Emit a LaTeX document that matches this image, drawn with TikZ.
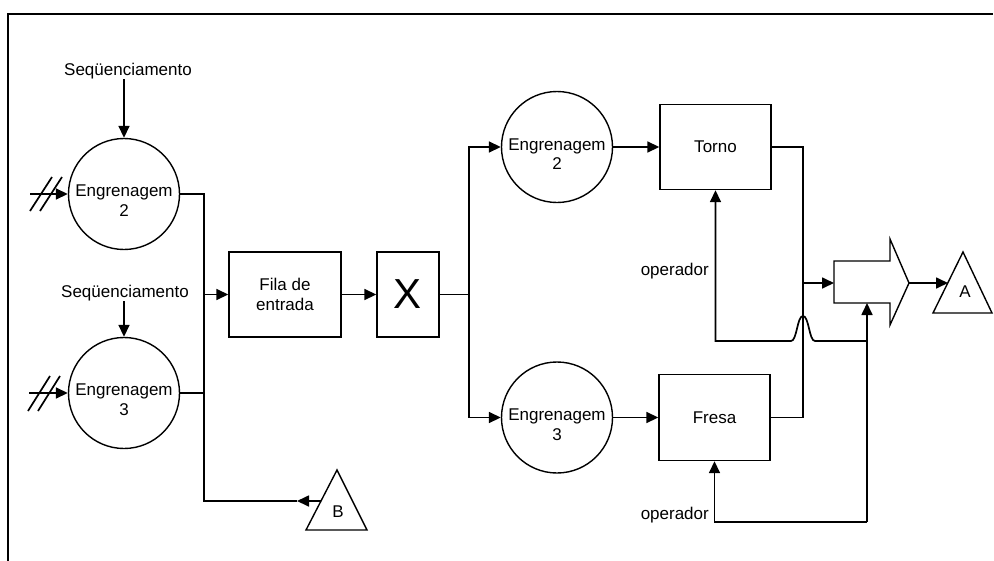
\documentclass[tikz,border=0pt]{standalone}
\usepackage{fontspec}
\setmainfont{Liberation Sans}
\usetikzlibrary{arrows.meta}
\begin{document}
\begin{tikzpicture}[x=1pt,y=-1pt,
  font=\fontsize{17}{19.5}\selectfont,
  ln/.style={line width=1.7pt},
  arr/.style={ln,-{Triangle[length=12pt,width=11pt]}},
  shp/.style={draw,line width=1.4pt},
  circ/.style={shp,circle,minimum size=111pt,inner sep=0pt},
  ctext/.style={align=center,inner sep=0pt},
  box/.style={shp,rectangle,inner sep=0pt,align=center},
  lbl/.style={inner sep=0pt}]
\useasboundingbox (0,0) rectangle (994,560);
% frame
\draw[line width=1.6pt] (8,561) -- (8,14) -- (993,14);

% left circles
\node[circ] (E2L) at (124,194) {};
\node[ctext] (E2Lt) at ([yshift=-6.5pt]E2L.center) {Engrenagem\\2};
\node[circ] (E3L) at (124,393) {};
\node[ctext] (E3Lt) at ([yshift=-6.5pt]E3L.center) {Engrenagem\\3};
\node[lbl] (S1) at (128,71) {Seqüenciamento};
\node[lbl] (S2) at (125,293) {Seqüenciamento};

% boxes
\node[box,minimum width=112pt,minimum height=85pt] (Fila) at (285,294.5) {Fila de\\entrada};
\node[box,minimum width=62pt,minimum height=85pt,font=\fontsize{42}{44}\selectfont] (X) at (408,294.5) {X};

% right circles
\node[circ] (E2R) at (557,147) {};
\node[ctext] (E2Rt) at ([yshift=-7pt]E2R.center) {Engrenagem\\2};
\node[circ] (E3R) at (557,417.5) {};
\node[ctext] (E3Rt) at ([yshift=-7pt]E3R.center) {Engrenagem\\3};
\node[box,minimum width=111pt,minimum height=85pt] (Torno) at (715.5,147) {Torno};
\node[box,minimum width=111pt,minimum height=86pt] (Fresa) at (714.5,417.5) {Fresa};

% triangles
\draw[shp] (337,470) -- (367,530) -- (306,530) -- cycle;
\node[lbl] (B) at (338,512) {B};
\coordinate (Bedge) at (321,501);
\coordinate (Btip) at (297,501);
\draw[shp] (963,252) -- (992,313) -- (933,313) -- cycle;
\node[lbl] (A) at (965,292) {A};
\coordinate (Aw) at (948,283);

% big arrow
\coordinate (Gw) at (834,283);
\coordinate (Gtip) at (909,283);
\coordinate (Gs) at (867,303);
\draw[shp] (834,261) -- (890,261) -- (890,239) -- (Gtip) -- (890,325) -- (890,303) -- (834,303) -- cycle;

% sequencing arrows
\draw[arr] (E2L.north |- S1.south) -- (E2L.north);
\draw[arr] (E3L.north |- S2.south) -- (E3L.north);

% inputs with double slash
\coordinate (in2) at (30,194);
\coordinate (in3) at (29,393);
\draw[arr] (in2) -- (E2L.west);
\draw[ln] ([shift={(0,17)}]in2) -- ++(22,-34);
\draw[ln] ([shift={(10,17)}]in2) -- ++(22,-34);
\draw[arr] (in3) -- (E3L.west);
\draw[ln] ([shift={(-1,18)}]in3) -- ++(22,-35);
\draw[ln] ([shift={(9,18)}]in3) -- ++(22,-35);

% left bus
\coordinate (bus1top) at (204,194);
\coordinate (bus1bot) at (204,501);
\draw[ln] (E2L.east) -- (bus1top) -- (bus1bot) -- (Btip);
\draw[ln] (E3L.east) -- (E3L.east -| bus1top);
\draw[arr] (Fila.west -| bus1top) -- (Fila.west);
\draw[arr] (Bedge) -- (Btip);

\draw[arr] (Fila) -- (X);

% middle bus
\coordinate (bus2) at (469,294.5);
\draw[ln] (X.east) -- (bus2);
\draw[arr] (bus2) |- (E2R.west);
\draw[arr] (bus2) |- (E3R.west);
\draw[arr] (E2R) -- (Torno);
\draw[arr] (E3R) -- (Fresa);

% right bus
\coordinate (bus3) at (803,283);
\draw[ln] (Torno.east) -| (bus3);
\draw[ln] (Fresa.east) -| (bus3);
\draw[arr] (bus3) -- (Gw);
\draw[arr] (Gtip) -- (Aw);

% operators
\coordinate (op) at (867,522);
\coordinate (op2) at (867,341);
\draw[arr] (op) -- (Gs);
\draw[arr] (op) -| (Fresa.south);
\draw[arr] (op2) -- (815,341) .. controls (809,341) and (809,316) .. (803,316)
  .. controls (797,316) and (797,341) .. (791,341) -| (Torno.south);
\node[lbl,anchor=east] (opl1) at (709,271) {operador};
\node[lbl,anchor=east] (opl2) at (709,515) {operador};
\end{tikzpicture}
\end{document}
